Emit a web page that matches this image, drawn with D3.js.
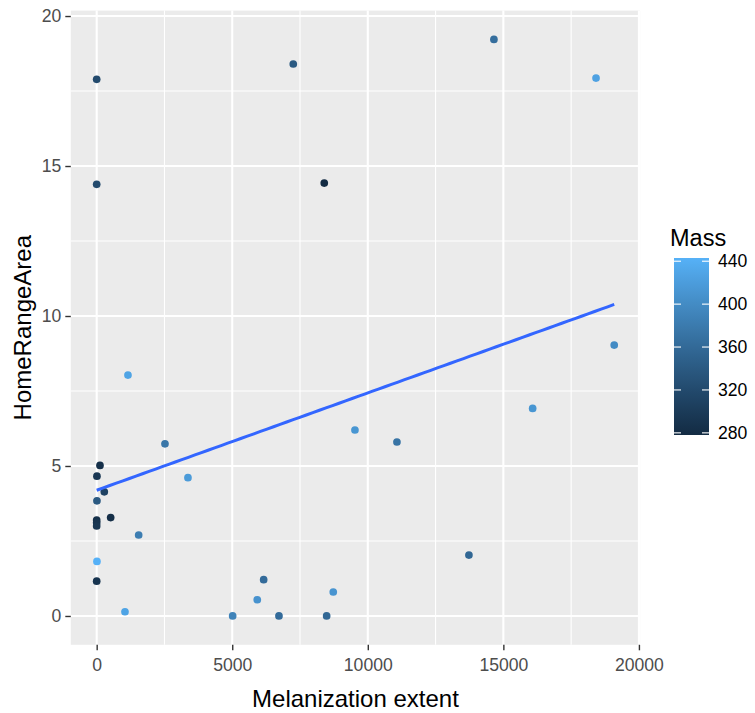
<!DOCTYPE html>
<html>
<head>
<meta charset="utf-8">
<script src="https://cdn.jsdelivr.net/npm/d3@7/dist/d3.min.js"></script>
<style>
  html, body { margin: 0; padding: 0; background: #ffffff; }
  svg { display: block; font-family: "Liberation Sans", Arial, sans-serif; }
</style>
</head>
<body>
<svg id="chart" width="755" height="713"></svg>
<script>
// Melanization extent (x), home range area (y) and body mass (colour) per animal
const melanization = [0, 0, 7251, 8394, 14652, 18418, 19089, 16080, 13730, 122,
  10, 281, 10, 516, 0, 0, 0, 2519, 3367, 1549,
  10, 0, 1044, 5015, 1154, 6159, 5924, 6723, 8482, 8726,
  9526, 11075];
const homeRangeArea = [17.89, 14.39, 18.40, 14.43, 19.22, 17.93, 9.03, 6.92, 2.03, 5.02,
  4.66, 4.14, 3.84, 3.28, 3.20, 3.11, 3.00, 5.74, 4.61, 2.70,
  1.82, 1.16, 0.14, 0.00, 8.03, 1.21, 0.54, 0.00, 0.00, 0.80,
  6.20, 5.80];
const mass = [320, 320, 340, 278, 365, 425, 400, 412, 357, 285,
  295, 310, 340, 282, 285, 290, 295, 375, 418, 383,
  443, 290, 428, 390, 428, 362, 408, 362, 358, 410,
  412, 372];

const xTicks = [0, 5000, 10000, 15000, 20000];
const xMinor = [2500, 7500, 12500, 17500];
const yTicks = [0, 5, 10, 15, 20];
const yMinor = [2.5, 7.5, 12.5, 17.5];
const massTicks = [280, 320, 360, 400, 440];

const xTitle = "Melanization extent";
const yTitle = "HomeRangeArea";
const legendTitle = "Mass";

const svg = d3.select("#chart");
const panel = { left: 70.8, right: 640.1, top: 10.6, bottom: 644.8 };

// continuous scales with 5% padding on each side of the data range
function padded(values) {
  const [lo, hi] = d3.extent(values);
  const pad = (hi - lo) * 0.05;
  return [lo - pad, hi + pad];
}
const x = d3.scaleLinear().domain(padded(melanization)).range([panel.left, panel.right]);
const y = d3.scaleLinear().domain(padded(homeRangeArea)).range([panel.bottom, panel.top]);

const massExtent = d3.extent(mass);
const color = d3.scaleLinear().domain(massExtent)
  .range(["#132B43", "#56B1F7"]).interpolate(d3.interpolateLab);

// panel background
svg.append("rect")
  .attr("x", panel.left).attr("y", panel.top)
  .attr("width", panel.right - panel.left).attr("height", panel.bottom - panel.top)
  .attr("fill", "#EBEBEB");

const grid = svg.append("g");
grid.selectAll("line.xminor").data(xMinor).join("line")
  .attr("x1", d => x(d)).attr("x2", d => x(d))
  .attr("y1", panel.top).attr("y2", panel.bottom)
  .attr("stroke", "#ffffff").attr("stroke-width", 1.1);
grid.selectAll("line.yminor").data(yMinor).join("line")
  .attr("y1", d => y(d)).attr("y2", d => y(d))
  .attr("x1", panel.left).attr("x2", panel.right)
  .attr("stroke", "#ffffff").attr("stroke-width", 1.1);
grid.selectAll("line.xmajor").data(xTicks).join("line")
  .attr("x1", d => x(d)).attr("x2", d => x(d))
  .attr("y1", panel.top).attr("y2", panel.bottom)
  .attr("stroke", "#ffffff").attr("stroke-width", 2.1);
grid.selectAll("line.ymajor").data(yTicks).join("line")
  .attr("y1", d => y(d)).attr("y2", d => y(d))
  .attr("x1", panel.left).attr("x2", panel.right)
  .attr("stroke", "#ffffff").attr("stroke-width", 2.1);

// axes
const xAxis = svg.append("g")
  .attr("transform", `translate(0,${panel.bottom})`)
  .call(d3.axisBottom(x).tickValues(xTicks).tickFormat(d3.format("d")).tickSizeInner(5.5).tickSizeOuter(0).tickPadding(4));
const yAxis = svg.append("g")
  .attr("transform", `translate(${panel.left},0)`)
  .call(d3.axisLeft(y).tickValues(yTicks).tickFormat(d3.format("d")).tickSizeInner(5.5).tickSizeOuter(0).tickPadding(4));
[xAxis, yAxis].forEach(g => {
  g.select(".domain").remove();
  g.selectAll(".tick line").attr("stroke", "#333333").attr("stroke-width", 1.4);
  g.selectAll(".tick text").attr("fill", "#4D4D4D")
    .style("font-size", "17.6px").style("font-family", "'Liberation Sans', Arial, sans-serif");
});
xAxis.selectAll(".tick text").attr("dy", "0.95em");

// axis titles
svg.append("text")
  .attr("x", (panel.left + panel.right) / 2).attr("y", 707)
  .attr("text-anchor", "middle").attr("fill", "#000")
  .style("font-size", "24px").text(xTitle);
svg.append("text")
  .attr("transform", `translate(31,${(panel.top + panel.bottom) / 2}) rotate(-90)`)
  .attr("text-anchor", "middle").attr("fill", "#000")
  .style("font-size", "24px").text(yTitle);

// points
const rows = melanization.map((m, i) => ({ m, h: homeRangeArea[i], w: mass[i] }));
svg.append("g").selectAll("circle").data(rows).join("circle")
  .attr("cx", d => x(d.m)).attr("cy", d => y(d.h)).attr("r", 3.85)
  .attr("fill", d => color(d.w));

// least-squares fit of home range area on melanization extent
const mx = d3.mean(melanization), my = d3.mean(homeRangeArea);
const sxy = d3.sum(rows, d => (d.m - mx) * (d.h - my));
const sxx = d3.sum(rows, d => (d.m - mx) * (d.m - mx));
const slope = sxy / sxx, intercept = my - slope * mx;
const [fx0, fx1] = d3.extent(melanization);
const fitPts = d3.range(0, 80).map(i => fx0 + (fx1 - fx0) * i / 79).map(v => [v, intercept + slope * v]);
svg.append("path")
  .datum(fitPts)
  .attr("d", d3.line().x(d => x(d[0])).y(d => y(d[1])))
  .attr("fill", "none").attr("stroke", "#3366FF").attr("stroke-width", 3);

// colour bar legend
const bar = { x: 674, w: 35, top: 258, bottom: 435 };
const legendY = d3.scaleLinear().domain(massExtent).range([bar.bottom, bar.top]);
const grad = svg.append("defs").append("linearGradient")
  .attr("id", "massGradient").attr("x1", 0).attr("y1", 1).attr("x2", 0).attr("y2", 0);
grad.selectAll("stop").data(d3.range(0, 21)).join("stop")
  .attr("offset", d => d / 20)
  .attr("stop-color", d => color(massExtent[0] + (massExtent[1] - massExtent[0]) * d / 20));

svg.append("text")
  .attr("x", 670).attr("y", 246).attr("fill", "#000")
  .style("font-size", "23.5px").text(legendTitle);
svg.append("rect")
  .attr("x", bar.x).attr("y", bar.top).attr("width", bar.w).attr("height", bar.bottom - bar.top)
  .attr("fill", "url(#massGradient)");
const lt = svg.append("g");
lt.selectAll("line.l").data(massTicks).join("line")
  .attr("x1", bar.x).attr("x2", bar.x + 7)
  .attr("y1", d => legendY(d)).attr("y2", d => legendY(d))
  .attr("stroke", "#ffffff").attr("stroke-width", 1.1);
lt.selectAll("line.r").data(massTicks).join("line")
  .attr("x1", bar.x + bar.w - 7).attr("x2", bar.x + bar.w)
  .attr("y1", d => legendY(d)).attr("y2", d => legendY(d))
  .attr("stroke", "#ffffff").attr("stroke-width", 1.1);
lt.selectAll("text").data(massTicks).join("text")
  .attr("x", 718).attr("y", d => legendY(d)).attr("dy", "0.35em")
  .attr("fill", "#000").style("font-size", "17.6px").text(d => d);
</script>
</body>
</html>
